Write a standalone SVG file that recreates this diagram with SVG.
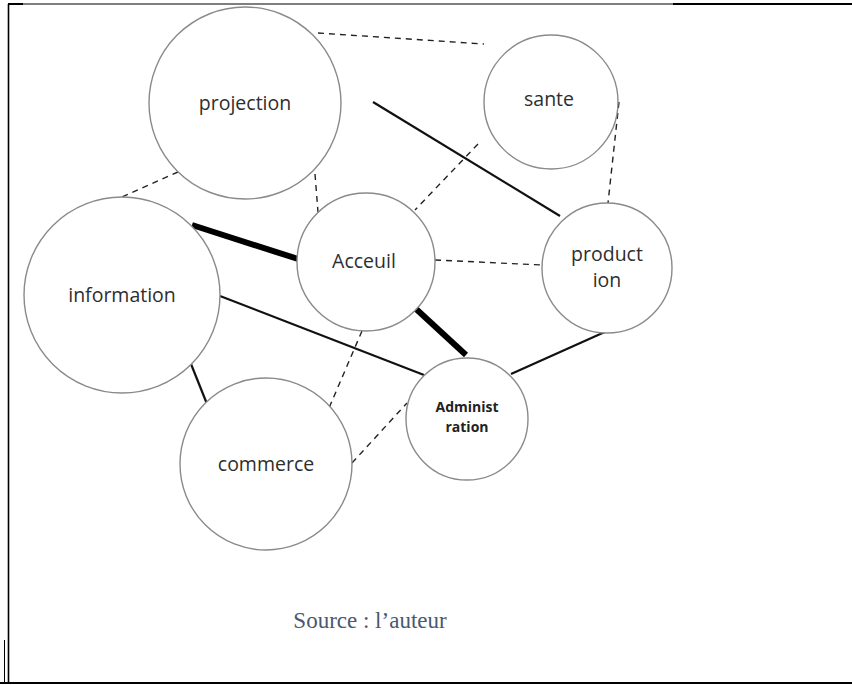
<svg xmlns="http://www.w3.org/2000/svg" width="852" height="685" viewBox="0 0 852 685">
<style>
.node circle{fill:#fff;stroke:#8a8a8a;stroke-width:1.4}
.node text{font-family:"Open Sans","Noto Sans",sans-serif;font-size:19.5px;fill:#2e2e2e;text-anchor:middle}
.node text.b{font-weight:bold;font-size:14px;fill:#222}
.dash{stroke:#222;stroke-width:1.4;stroke-dasharray:6 5;fill:none}
.solid{stroke:#111;stroke-width:2.2;fill:none}
.thick{stroke:#000;stroke-width:6;fill:none}
.frame{stroke:#000;fill:none}
</style>
<rect width="852" height="685" fill="#fff"/>
<g id="frame">
<line class="frame" x1="8" y1="4" x2="673" y2="4" stroke-width="1.2"/>
<line class="frame" x1="8" y1="4" x2="23" y2="4" stroke-width="2"/>
<line class="frame" x1="673" y1="4" x2="852" y2="4" stroke-width="2.2"/>
<line class="frame" x1="8.5" y1="4" x2="8.5" y2="683" stroke-width="1.6"/>
<line class="frame" x1="4.5" y1="640" x2="4.5" y2="683" stroke-width="1"/>
<line class="frame" x1="0" y1="683" x2="852" y2="683" stroke-width="2.2"/>
</g>
<g id="connectors">
<line class="dash" x1="318" y1="33" x2="484" y2="44"/>
<line class="solid" x1="373" y1="102" x2="560" y2="216"/>
<line class="dash" x1="178" y1="172" x2="122" y2="197"/>
<line class="dash" x1="315" y1="174" x2="318" y2="212"/>
<line class="dash" x1="478" y1="144" x2="415" y2="210"/>
<line class="dash" x1="619" y1="102" x2="608" y2="203"/>
<line class="thick" x1="192" y1="225" x2="298" y2="259"/>
<line class="dash" x1="435" y1="260" x2="542" y2="265"/>
<line class="solid" x1="220" y1="296" x2="424" y2="375"/>
<line class="thick" x1="415" y1="308" x2="466" y2="355"/>
<line class="solid" x1="607" y1="331" x2="511" y2="374"/>
<line class="solid" x1="191" y1="364" x2="207" y2="404"/>
<line class="dash" x1="362" y1="331" x2="329" y2="408"/>
<line class="dash" x1="352" y1="463" x2="407" y2="403"/>
</g>
<g id="projection" class="node"><circle cx="245" cy="103" r="96"/><text x="245" y="110">projection</text></g>
<g id="sante" class="node"><circle cx="551" cy="102" r="67"/><text x="549" y="106">sante</text></g>
<g id="information" class="node"><circle cx="122" cy="295" r="98"/><text x="122" y="302">information</text></g>
<g id="acceuil" class="node"><circle cx="366" cy="262" r="69"/><text x="364" y="268">Acceuil</text></g>
<g id="production" class="node"><circle cx="607" cy="268" r="65"/><text x="607" y="261">product</text><text x="607" y="287">ion</text></g>
<g id="administration" class="node"><circle cx="467" cy="419" r="61"/><text class="b" x="467" y="412">Administ</text><text class="b" x="467" y="432">ration</text></g>
<g id="commerce" class="node"><circle cx="266" cy="464" r="86"/><text x="266" y="471">commerce</text></g>
<text x="370" y="628" font-family="'Liberation Serif',serif" font-size="23" fill="#4a5870" text-anchor="middle">Source : l’auteur</text>
</svg>
